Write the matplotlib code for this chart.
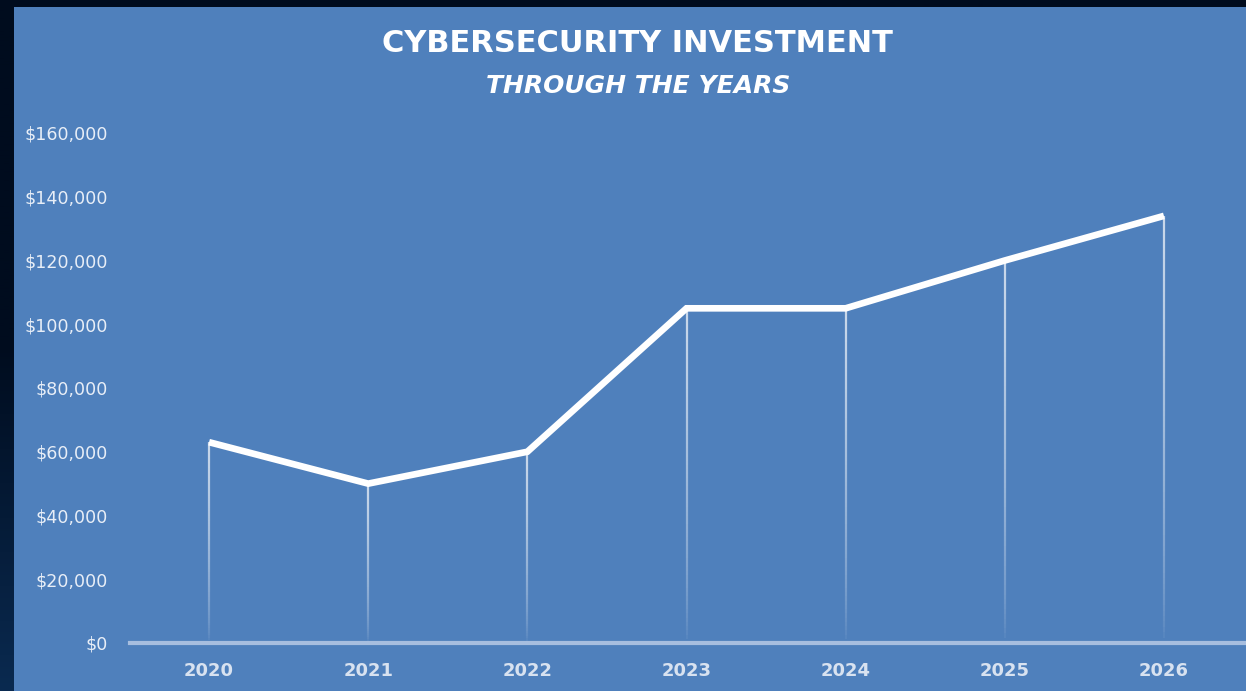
import numpy as np
import matplotlib.pyplot as plt
from matplotlib.collections import LineCollection
from matplotlib.patches import Rectangle
from matplotlib.ticker import FuncFormatter

years = ['2020', '2021', '2022', '2023', '2024', '2025', '2026']
investment = [63000, 50000, 60000, 105000, 105000, 120000, 134000]
y_ticks = [0, 20000, 40000, 60000, 80000, 100000, 120000, 140000, 160000]

W, H = 1246, 691
fig = plt.figure(figsize=(W / 100, H / 100), dpi=100)

# dark frame with a faint glow at lower left
bg = fig.add_axes([0, 0, 1, 1])
bg.set_axis_off()
t = np.clip((np.linspace(0, 1, 256) - 0.5) / 0.5, 0, 1)[:, None, None]
top = np.array([0, 12, 30]) / 255
bottom = np.array([10, 42, 80]) / 255
grad = top * (1 - t) + bottom * t
bg.imshow(grad, extent=[0, 1, 0, 1], aspect='auto', origin='upper')
bg.add_patch(Rectangle((14 / W, 0), 1, (H - 7) / H, color='#4F80BC', lw=0))
bg.set_xlim(0, 1)
bg.set_ylim(0, 1)

ax = fig.add_axes([129.5 / W, 48 / H, 1114 / W, 510 / H])
ax.patch.set_alpha(0)
x = np.arange(len(years))

# fading drop lines
for xi, v in zip(x, investment):
    ys = np.linspace(v, 0, 80)
    segs = [[(xi, ys[k]), (xi, ys[k + 1])] for k in range(len(ys) - 1)]
    s = np.linspace(0, 1, len(segs))
    alphas = 0.7 * (1 - s) ** 0.6
    cols = [(1, 1, 1, a) for a in alphas]
    ax.add_collection(LineCollection(segs, colors=cols, linewidths=1.6))

ax.plot(x, investment, color='white', lw=4.8, solid_joinstyle='miter',
        solid_capstyle='butt', zorder=5)

ax.set_xlim(-0.5, len(years) - 0.5)
ax.set_ylim(0, 160000)
ax.set_xticks(x)
ax.set_xticklabels(years, fontsize=13, fontweight='bold', color='#D8E2F0')
ax.set_yticks(y_ticks)
ax.yaxis.set_major_formatter(FuncFormatter(lambda v, p: '${:,.0f}'.format(v)))
for lab in ax.get_yticklabels():
    lab.set_fontsize(12.6)
    lab.set_color('#E8EEF7')
ax.tick_params(axis='both', length=0)
ax.tick_params(axis='y', pad=15.5)
ax.tick_params(axis='x', pad=14)

for sp in ['top', 'right', 'left']:
    ax.spines[sp].set_visible(False)
ax.spines['bottom'].set_color('#A7BEDF')
ax.spines['bottom'].set_linewidth(3)

fig.text(637.5 / W, 1 - 44 / H, 'CYBERSECURITY INVESTMENT', ha='center', va='center',
         fontsize=22, fontweight='bold', color='white')
fig.text(638 / W, 1 - 86 / H, 'THROUGH THE YEARS', ha='center', va='center',
         fontsize=18, fontweight='bold', fontstyle='italic', color='white')

fig.savefig('out.png', dpi=100)
